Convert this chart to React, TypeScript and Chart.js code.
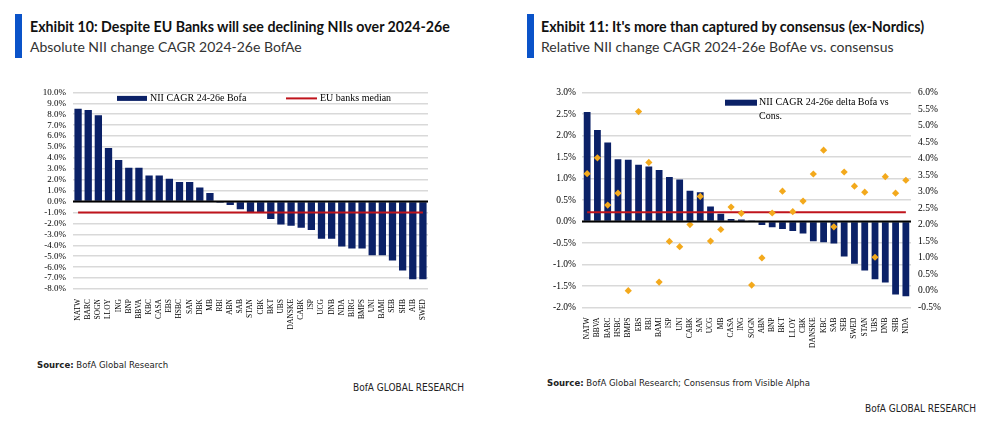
import React, { useEffect, useRef } from "react";
import { Chart, registerables } from "chart.js";
Chart.register(...registerables);

// ---------- Exhibit 10 data ----------
const leftCategories = ["NATW","BARC","SOGN","LLOY","ING","BNP","BBVA","KBC","CASA","EBS","HSBC","SAN","DBK","MB","RBI","ABN","SAB","STAN","CBK","BKT","UBS","DANSKE","CABK","ISP","UCG","DNB","NDA","BIRG","BMPS","UNI","BAMI","SEB","SHB","AIB","SWED"];
const leftValues = [8.5,8.4,7.9,4.9,3.8,3.1,3.1,2.4,2.4,2.1,1.8,1.8,1.3,0.8,-0.1,-0.3,-0.7,-1.0,-1.0,-1.6,-2.1,-2.2,-2.4,-2.6,-3.4,-3.4,-4.1,-4.3,-4.3,-4.9,-4.9,-5.4,-6.3,-7.1,-7.1];
const leftMedian = -1.0;
const leftAxisMin = -8;
const leftAxisMax = 10;
const leftAxisStep = 1;
const leftBarLabel = "NII CAGR 24-26e Bofa";
const leftLineLabel = "EU banks median";

// ---------- Exhibit 11 data ----------
const rightCategories = ["NATW","BBVA","BARC","HSBC","BMPS","EBS","RBI","BAMI","ISP","UNI","CABK","SAN","UCG","MB","CASA","ING","SOGN","ABN","BNP","BKT","LLOY","CBK","DANSKE","KBC","SAB","SEB","SWED","STAN","UBS","DNB","SHB","NDA"];
const rightBars = [2.55,2.13,1.84,1.45,1.44,1.32,1.28,1.2,1.04,0.98,0.72,0.68,0.35,0.18,0.06,0.05,0.01,-0.08,-0.13,-0.17,-0.22,-0.28,-0.46,-0.48,-0.51,-0.81,-0.98,-1.14,-1.34,-1.42,-1.7,-1.74];
const rightDots = [3.55,4.03,2.6,2.96,0.01,5.43,3.89,0.27,1.5,1.34,2.01,2.86,1.51,1.86,2.54,2.35,0.18,1.0,2.36,3.02,2.4,2.72,3.54,4.26,1.94,3.6,3.17,2.99,1.02,3.46,2.96,3.35];
const rightMedian = 2.38;
const rightLeftMin = -2;
const rightLeftMax = 3;
const rightRightMin = -0.5;
const rightRightMax = 6;
const rightStep = 0.5;
const rightBarLabel1 = "NII CAGR 24-26e delta Bofa vs";
const rightBarLabel2 = "Cons.";

const NAVY = "#0b2167";
const RED = "#c0141c";
const ORANGE = "#f3a91c";
const GRID = "#d9d9d9";
const SERIF = "'Liberation Serif', 'Times New Roman', serif";
const SANS = "Lato, 'Open Sans', sans-serif";
const NARROW = "'Liberation Sans Narrow', 'DejaVu Sans Condensed', Lato, sans-serif";

const zeroLinePlugin = (axisId: string) => ({
  id: "zeroLine",
  afterDatasetsDraw(chart: any) {
    const { ctx, chartArea } = chart;
    const y = chart.scales[axisId].getPixelForValue(0);
    ctx.save();
    ctx.strokeStyle = "#000";
    ctx.lineWidth = 2;
    ctx.beginPath();
    ctx.moveTo(chartArea.left, y);
    ctx.lineTo(chartArea.right, y);
    ctx.stroke();
    ctx.restore();
  },
});

function LeftChart() {
  const ref = useRef<HTMLCanvasElement>(null);
  useEffect(() => {
    const legend = {
      id: "leftLegend",
      afterDraw(chart: any) {
        const { ctx, chartArea } = chart;
        const x0 = chartArea.left;
        const y0 = chartArea.top + 6;
        ctx.save();
        ctx.fillStyle = NAVY;
        ctx.fillRect(x0 + 44, y0 - 2.5, 30, 5);
        ctx.font = `10px ${SERIF}`;
        ctx.fillStyle = "#000";
        ctx.textBaseline = "middle";
        ctx.fillText(leftBarLabel, x0 + 77, y0);
        ctx.strokeStyle = RED;
        ctx.lineWidth = 2;
        ctx.beginPath();
        ctx.moveTo(x0 + 213, y0);
        ctx.lineTo(x0 + 244, y0);
        ctx.stroke();
        ctx.fillText(leftLineLabel, x0 + 247, y0);
        ctx.restore();
      },
    };
    const chart = new Chart(ref.current!, {
      type: "bar",
      data: {
        labels: leftCategories,
        datasets: [
          {
            type: "line",
            label: leftLineLabel,
            data: leftCategories.map(() => leftMedian),
            borderColor: RED,
            borderWidth: 2,
            pointRadius: 0,
            order: 0,
          } as any,
          {
            type: "bar",
            label: leftBarLabel,
            data: leftValues,
            backgroundColor: NAVY,
            barPercentage: 0.72,
            categoryPercentage: 1,
            order: 1,
          },
        ],
      },
      options: {
        responsive: false,
        animation: false,
        layout: { padding: { left: 0, top: 9, right: 47, bottom: 0 } },
        plugins: { legend: { display: false }, tooltip: { enabled: false } },
        scales: {
          x: {
            grid: { display: false },
            border: { display: false },
            ticks: {
              autoSkip: false,
              minRotation: 90,
              maxRotation: 90,
              padding: 2,
              color: "#000",
              font: { family: SERIF, size: 7.5 },
            },
            afterFit: (s: any) => { s.height = 53; },
          },
          y: {
            min: leftAxisMin,
            max: leftAxisMax,
            grid: { color: GRID, lineWidth: 1.5, drawTicks: false },
            border: { display: false },
            ticks: {
              stepSize: leftAxisStep,
              autoSkip: false,
              padding: 7,
              color: "#000",
              font: { family: SERIF, size: 9 },
              callback: (v: any) => Number(v).toFixed(1) + "%",
            },
            afterFit: (s: any) => { s.width = 48; },
          },
        },
      },
      plugins: [zeroLinePlugin("y"), legend],
    });
    return () => chart.destroy();
  }, []);
  return <canvas ref={ref} width={450} height={262} style={{ position: "absolute", left: 25, top: 80 }} />;
}

function RightChart() {
  const ref = useRef<HTMLCanvasElement>(null);
  useEffect(() => {
    const legend = {
      id: "rightLegend",
      afterDraw(chart: any) {
        const { ctx, chartArea } = chart;
        const x0 = chartArea.left;
        const y0 = chartArea.top + 10;
        ctx.save();
        ctx.fillStyle = NAVY;
        ctx.fillRect(x0 + 143, y0 - 3, 32, 6);
        ctx.font = `10px ${SERIF}`;
        ctx.fillStyle = "#000";
        ctx.textBaseline = "middle";
        ctx.fillText(rightBarLabel1, x0 + 177, y0);
        ctx.fillText(rightBarLabel2, x0 + 177, y0 + 14);
        ctx.restore();
      },
    };
    const chart = new Chart(ref.current!, {
      type: "bar",
      data: {
        labels: rightCategories,
        datasets: [
          {
            type: "line",
            label: "Consensus",
            data: rightDots,
            yAxisID: "y2",
            showLine: false,
            pointStyle: "rectRot",
            pointRadius: 3.6,
            backgroundColor: ORANGE,
            borderColor: ORANGE,
            borderWidth: 0,
            order: 0,
          } as any,
          {
            type: "line",
            label: "Median",
            data: rightCategories.map(() => rightMedian),
            yAxisID: "y2",
            borderColor: RED,
            borderWidth: 2,
            pointRadius: 0,
            order: 1,
          } as any,
          {
            type: "bar",
            label: rightBarLabel1 + " " + rightBarLabel2,
            data: rightBars,
            yAxisID: "y",
            backgroundColor: NAVY,
            barPercentage: 0.66,
            categoryPercentage: 1,
            order: 2,
          },
        ],
      },
      options: {
        responsive: false,
        animation: false,
        layout: { padding: { left: 0, top: 10, right: 0, bottom: 0 } },
        plugins: { legend: { display: false }, tooltip: { enabled: false } },
        scales: {
          x: {
            grid: { display: false },
            border: { display: false },
            ticks: {
              autoSkip: false,
              minRotation: 90,
              maxRotation: 90,
              padding: 2,
              color: "#000",
              font: { family: SERIF, size: 7.5 },
            },
            afterFit: (s: any) => { s.height = 42.5; },
          },
          y: {
            position: "left",
            min: rightLeftMin,
            max: rightLeftMax,
            grid: { color: GRID, lineWidth: 1.5, drawTicks: false },
            border: { display: false },
            ticks: {
              stepSize: rightStep,
              autoSkip: false,
              padding: 6,
              color: "#000",
              font: { family: SERIF, size: 9.5 },
              callback: (v: any) => Number(v).toFixed(1) + "%",
            },
            afterFit: (s: any) => { s.width = 47; },
          },
          y2: {
            position: "right",
            min: rightRightMin,
            max: rightRightMax,
            grid: { display: false, drawTicks: false },
            border: { display: false },
            ticks: {
              stepSize: rightStep,
              autoSkip: false,
              padding: 7,
              color: "#000",
              font: { family: SERIF, size: 9.5 },
              callback: (v: any) => Number(v).toFixed(1) + "%",
            },
            afterFit: (s: any) => { s.width = 49; },
          },
        },
      },
      plugins: [zeroLinePlugin("y"), legend],
    });
    return () => chart.destroy();
  }, []);
  return <canvas ref={ref} width={425} height={270} style={{ position: "absolute", left: 535, top: 80 }} />;
}

const abs = (left: number, top: number, extra: React.CSSProperties = {}): React.CSSProperties => ({
  position: "absolute",
  left,
  top,
  whiteSpace: "nowrap",
  margin: 0,
  ...extra,
});

export default function App() {
  return (
    <div style={{ position: "absolute", left: 0, top: 0, width: 985, height: 429, background: "#fff", overflow: "hidden" }}>
      {/* Exhibit 10 header */}
      <div style={abs(15, 14, { width: 7, height: 44, background: "#0a53c9" })} />
      <div style={abs(30, 18, { fontFamily: SANS, fontWeight: 700, fontSize: 14.2, lineHeight: "17px", color: "#111" })}>
        Exhibit 10: Despite EU Banks will see declining NIIs over 2024-26e
      </div>
      <div style={abs(30, 38, { fontFamily: SANS, fontWeight: 400, fontSize: 14, lineHeight: "17px", color: "#333" })}>
        Absolute NII change CAGR 2024-26e BofAe
      </div>

      {/* Exhibit 11 header */}
      <div style={abs(527, 14, { width: 7, height: 44, background: "#0a53c9" })} />
      <div style={abs(541, 18, { fontFamily: SANS, fontWeight: 700, fontSize: 14.2, lineHeight: "17px", color: "#111" })}>
        Exhibit 11: It's more than captured by consensus (ex-Nordics)
      </div>
      <div style={abs(541, 38, { fontFamily: SANS, fontWeight: 400, fontSize: 14, lineHeight: "17px", color: "#333" })}>
        Relative NII change CAGR 2024-26e BofAe vs. consensus
      </div>

      <LeftChart />
      <RightChart />

      {/* Footers */}
      <div style={abs(37, 358, { fontFamily: NARROW, fontSize: 9.5, lineHeight: "14px", color: "#222" })}>
        <b>Source:</b> BofA Global Research
      </div>
      <div style={abs(353, 381, { fontFamily: NARROW, fontSize: 10, lineHeight: "14px", color: "#222" })}>
        BofA GLOBAL RESEARCH
      </div>
      <div style={abs(547, 376, { fontFamily: NARROW, fontSize: 9.5, lineHeight: "14px", color: "#222" })}>
        <b>Source:</b> BofA Global Research; Consensus from Visible Alpha
      </div>
      <div style={abs(865, 402, { fontFamily: NARROW, fontSize: 10, lineHeight: "14px", color: "#222" })}>
        BofA GLOBAL RESEARCH
      </div>
    </div>
  );
}
